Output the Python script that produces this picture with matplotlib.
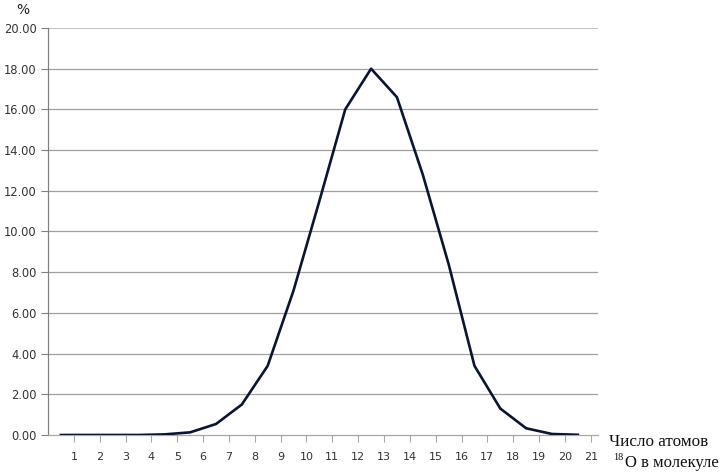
import matplotlib
matplotlib.use("Agg")
import matplotlib.pyplot as plt
import numpy as np

# Data
atoms = list(range(0, 21))
percent = [0.0, 0.0, 0.0, 0.0, 0.03, 0.13, 0.54, 1.5, 3.4, 7.1, 11.5,
           16.0, 18.0, 16.6, 12.8, 8.4, 3.4, 1.3, 0.33, 0.05, 0.01]
x_tick_labels = [str(i) for i in range(1, 22)]
y_ticks = [0, 2, 4, 6, 8, 10, 12, 14, 16, 18, 20]

W, H = 722, 473
fig = plt.figure(figsize=(W / 100, H / 100), dpi=100)
left, right, top, bottom = 48, 598, 28, 435
ax = fig.add_axes([left / W, 1 - bottom / H, (right - left) / W, (bottom - top) / H])

xpos = [a + 0.5 for a in atoms]
ax.plot(xpos, percent, color="#0b1530", lw=1.9, solid_joinstyle="round", zorder=3)

ax.set_xlim(0, 21.28)
ax.set_ylim(0, 20)
ax.set_yticks(y_ticks)
ax.set_yticklabels([f"{v:.2f}" for v in y_ticks])
ax.set_xticks(range(1, 22))
ax.set_xticklabels(x_tick_labels)

for v in y_ticks[1:]:
    ax.axhline(v, color="#bdbdbd" if v == 20 else "#a0a0a0",
               lw=0.9 if v != 20 else 1.3, zorder=1)

for s in ["top", "right"]:
    ax.spines[s].set_visible(False)
ax.spines["left"].set_color("#808080")
ax.spines["bottom"].set_color("#a8a8a8")
ax.spines["left"].set_linewidth(0.9)
ax.spines["bottom"].set_linewidth(0.9)

ax.tick_params(axis="y", direction="out", length=5, color="#808080", labelsize=8.3,
               labelcolor="#333333", pad=3)
ax.tick_params(axis="x", direction="out", length=5, color="#a8a8a8", labelsize=8,
               labelcolor="#333333", pad=7)

fig.text(23 / W, 1 - 10 / H, "%", ha="center", va="center", fontsize=10, color="#222222")
fig.text(609 / W, 1 - 442 / H, "Число атомов", ha="left", va="center",
         fontsize=12.3, family="Liberation Serif", color="#111111")
fig.text(613 / W, 1 - 457 / H, "18", ha="left", va="center",
         fontsize=7.5, family="Liberation Serif", color="#111111")
fig.text(719 / W, 1 - 463 / H, "O в молекуле", ha="right", va="center",
         fontsize=12, family="Liberation Serif", color="#111111")

fig.savefig("out.png", dpi=100)
